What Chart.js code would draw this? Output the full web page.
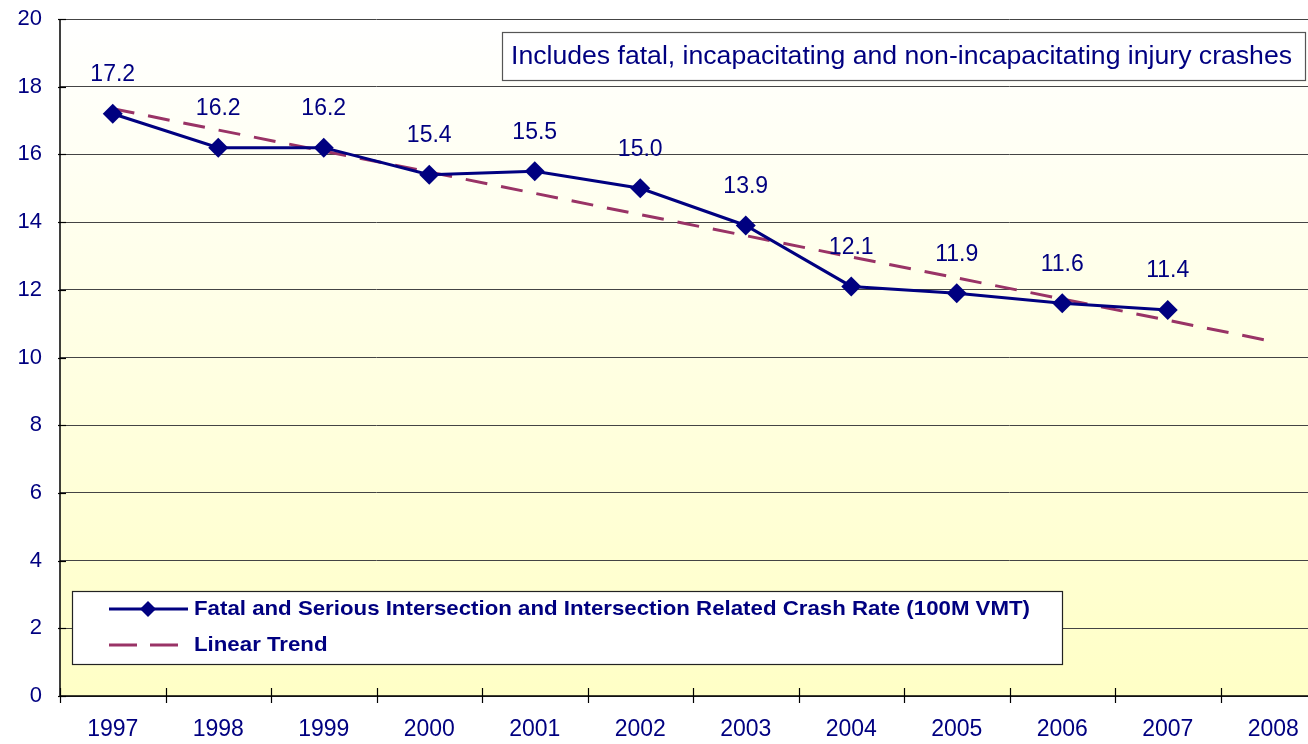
<!DOCTYPE html>
<html><head><meta charset="utf-8">
<script src="https://cdn.jsdelivr.net/npm/chart.js@4/dist/chart.umd.min.js"></script>
<style>html,body{margin:0;padding:0;background:#fff;overflow:hidden;width:1308px;height:744px}
#wrap{width:1336px;height:744px;position:relative}</style>
</head><body><div id="wrap"><canvas id="c" width="1336" height="744"></canvas></div>
<script>
const years = ['1997','1998','1999','2000','2001','2002','2003','2004','2005','2006','2007','2008'];
const crashRate = [17.2,16.2,16.2,15.4,15.5,15.0,13.9,12.1,11.9,11.6,11.4,null];
const trendValues = [17.35,16.72,16.10,15.48,14.85,14.22,13.60,12.97,12.35,11.73,11.10,10.47];
const yTicks = [0,2,4,6,8,10,12,14,16,18,20];
const seriesLabel = 'Fatal and Serious Intersection and Intersection Related Crash Rate (100M VMT)';
const trendLabel = 'Linear Trend';
const noteText = 'Includes fatal, incapacitating and non-incapacitating injury crashes';

const NAVY = '#000080', TREND = '#993366';
const FONT = '"Liberation Sans", Arial, sans-serif';

function fitText(ctx, text, x, y, maxW) {
  const w = ctx.measureText(text).width;
  ctx.save(); ctx.translate(x, y); ctx.scale(maxW / w, 1); ctx.fillText(text, 0, 0); ctx.restore();
}

const bgPlugin = {
  id: 'bg',
  beforeDraw(chart) {
    const {ctx, chartArea: a} = chart;
    const g = ctx.createLinearGradient(0, a.top, 0, a.bottom);
    g.addColorStop(0, '#FFFFFF');
    g.addColorStop(1, '#FFFFC6');
    ctx.save(); ctx.fillStyle = g;
    ctx.fillRect(a.left, a.top, a.right - a.left, a.bottom - a.top);
    ctx.restore();
  },
  afterDatasetsDraw(chart) {
    const {ctx, chartArea: a, scales} = chart;
    ctx.save();
    ctx.strokeStyle = '#000'; ctx.lineWidth = 1.5;
    ctx.beginPath(); ctx.moveTo(a.left, a.top); ctx.lineTo(a.left, a.bottom); ctx.lineTo(a.right, a.bottom); ctx.stroke();
    const n = years.length; const w = (a.right - a.left) / n;
    ctx.lineWidth = 1.2;
    for (let i = 0; i <= n; i++) {
      const px = Math.round(a.left + i * w) + 0.5;
      ctx.beginPath(); ctx.moveTo(px, a.bottom - 8); ctx.lineTo(px, a.bottom + 7); ctx.stroke();
    }
    const y = scales.y;
    yTicks.forEach(v => {
      const py = Math.round(y.getPixelForValue(v)) + 0.5;
      ctx.beginPath(); ctx.moveTo(a.left - 2, py); ctx.lineTo(a.left + 6, py); ctx.stroke();
    });
    ctx.fillStyle = NAVY; ctx.font = '23px ' + FONT;
    ctx.textAlign = 'center'; ctx.textBaseline = 'middle';
    const meta = chart.getDatasetMeta(0);
    meta.data.forEach((p, i) => {
      if (crashRate[i] == null) return;
      ctx.fillText(crashRate[i].toFixed(1), p.x, p.y - 39);
    });
    // note box
    ctx.fillStyle = '#fff'; ctx.strokeStyle = '#555'; ctx.lineWidth = 1.2;
    ctx.fillRect(502, 32, 803, 48); ctx.strokeRect(502.5, 32.5, 803, 48);
    ctx.fillStyle = NAVY; ctx.textAlign = 'left';
    ctx.font = '25px ' + FONT;
    fitText(ctx, noteText, 511, 57, 781);
    // legend box
    ctx.fillStyle = '#fff'; ctx.strokeStyle = '#222';
    ctx.fillRect(72, 591, 990, 73); ctx.strokeRect(72.5, 591.5, 990, 73);
    ctx.strokeStyle = NAVY; ctx.lineWidth = 3;
    ctx.beginPath(); ctx.moveTo(109, 609); ctx.lineTo(188, 609); ctx.stroke();
    ctx.fillStyle = NAVY;
    ctx.beginPath(); ctx.moveTo(148, 601); ctx.lineTo(156, 609); ctx.lineTo(148, 617); ctx.lineTo(140, 609); ctx.closePath(); ctx.fill();
    ctx.strokeStyle = TREND; ctx.lineWidth = 3;
    ctx.beginPath(); ctx.moveTo(109, 645); ctx.lineTo(137, 645); ctx.moveTo(150, 645); ctx.lineTo(178, 645); ctx.stroke();
    ctx.fillStyle = NAVY; ctx.font = 'bold 21px ' + FONT;
    fitText(ctx, seriesLabel, 194, 609, 836);
    const tw = ctx.measureText(trendLabel).width;
    fitText(ctx, trendLabel, 194, 645, tw * 836 / ctx.measureText(seriesLabel).width);
    ctx.restore();
  }
};

new Chart(document.getElementById('c'), {
  type: 'line',
  data: {
    labels: years,
    datasets: [
      { label: seriesLabel, data: crashRate, borderColor: NAVY, backgroundColor: NAVY, borderWidth: 3,
        pointStyle: 'rectRot', pointRadius: 10, pointHoverRadius: 10, pointBackgroundColor: NAVY, pointBorderWidth: 0, tension: 0, order: 1 },
      { label: trendLabel, data: trendValues, borderColor: TREND, borderWidth: 3, borderDash: [22, 14],
        pointRadius: 0, tension: 0, fill: false, order: 2 }
    ]
  },
  options: {
    responsive: false, animation: false,
    layout: { padding: { top: 19, right: 4, left: 0, bottom: 0 } },
    plugins: { legend: { display: false }, tooltip: { enabled: false } },
    scales: {
      x: {
        type: 'category', offset: true,
        grid: { display: false, drawTicks: false },
        border: { display: false },
        ticks: { color: NAVY, font: { size: 23, family: FONT }, padding: 20, maxRotation: 0, autoSkip: false },
        afterFit(s) { s.height = 48; }
      },
      y: {
        min: 0, max: 20,
        grid: { color: '#444', lineWidth: 1, drawTicks: false },
        border: { display: false },
        ticks: { stepSize: 2, color: NAVY, font: { size: 22, family: FONT }, padding: 18 },
        afterFit(s) { s.width = 60; s.paddingTop = 0; s.paddingBottom = 0; }
      }
    }
  },
  plugins: [bgPlugin]
});
</script></body></html>
